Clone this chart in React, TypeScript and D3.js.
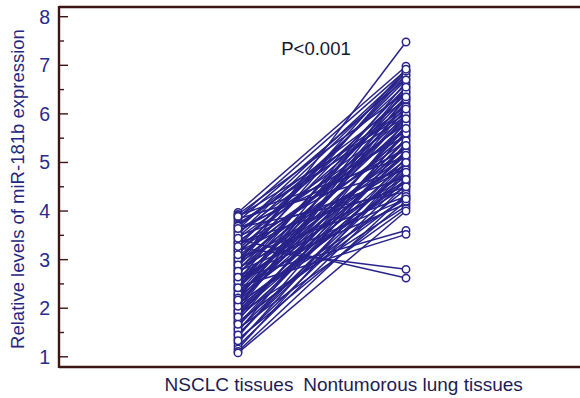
import { useEffect, useRef } from 'react';
import * as d3 from 'd3';

// Paired expression values (same patient = same index)
const groups = ['NSCLC tissues', 'Nontumorous lung tissues'];
const tumor = [
  3.97, 3.93, 3.91, 3.86, 3.84, 3.79, 3.74, 3.71, 3.66, 3.62, 3.58, 3.55, 3.49, 3.46, 3.41, 3.37,
  3.33, 3.29, 3.24, 3.21, 3.16, 3.12, 3.07, 3.03, 2.99, 2.96, 2.91, 2.87, 2.83, 2.78, 2.74, 2.71,
  2.66, 2.62, 2.57, 2.53, 2.49, 2.44, 2.41, 2.36, 2.32, 2.28, 2.23, 2.19, 2.15, 2.11, 2.06, 2.02,
  1.97, 1.93, 1.88, 1.84, 1.79, 1.74, 1.69, 1.63, 1.58, 1.52, 1.47, 1.41, 1.36, 1.29, 1.22, 1.16,
  1.11, 1.08, 3.52, 3.18, 2.94, 2.69, 2.47, 2.26, 2.08, 3.69, 3.02, 2.81, 2.59, 2.39, 3.35, 2.13,
  1.9, 3.89, 3.64, 3.27, 2.89, 2.55, 2.3, 1.95, 1.72, 3.1, 2.76, 2.21, 1.56, 3.44, 2.64,
  1.82, 1.45, 2.04, 1.67, 2.42, 1.33, 2.17,
];
const normal = [
  6.98, 6.45, 5.12, 6.9, 4.85, 6.72, 5.95, 6.3, 4.4, 6.85, 5.55, 6.1, 4.7, 6.6, 2.62, 5.8,
  6.4, 5.3, 2.8, 6.2, 4.95, 6.78, 5.7, 4.3, 6.55, 5.45, 7.48, 6.05, 4.6, 6.35, 5.2, 5.9,
  4.15, 3.6, 6.65, 5.05, 6.15, 3.52, 5.6, 4.5, 6.0, 5.35, 4.8, 6.5, 5.15, 4.25, 5.75, 4.65,
  6.25, 5.0, 4.1, 5.5, 4.9, 5.85, 4.45, 5.25, 4.05, 5.65, 4.75, 5.4, 4.2, 5.1, 4.55, 4.95,
  4.35, 4.0, 6.8, 5.65, 4.9, 6.45, 5.3, 5.95, 4.6, 6.15, 5.85, 5.55, 4.7, 6.3, 4.5, 5.45,
  4.85, 6.0, 5.25, 6.7, 6.88, 5.8, 5.05, 5.2, 4.3, 6.92, 4.25, 6.1, 4.8, 5.9, 5.15,
  5.6, 5.0, 6.35, 5.35, 6.55, 4.65, 5.7,
];
const yTicks = [1, 2, 3, 4, 5, 6, 7, 8];

const W = 580;
const H = 398;
const lineColor = '#28238a';
const axisColor = '#3e1414';
const font = 'Liberation Sans, Arial, sans-serif';

const App = () => {
  const ref = useRef<SVGSVGElement>(null);

  useEffect(() => {
    if (!ref.current) return;
    const svg = d3.select(ref.current);
    svg.selectAll('*').remove();

    const left = 59, top = 7, bottom = 367;
    const x = d3.scalePoint<string>().domain(groups).range([238, 406]);
    const y = d3.scaleLinear().domain([0.79, 8.2]).range([bottom, top]);

    const pairs = tumor.map((t, i) => ({ t, n: normal[i] }));

    // connecting lines
    svg.append('g')
      .selectAll('line')
      .data(pairs)
      .enter()
      .append('line')
      .attr('x1', x(groups[0])!)
      .attr('x2', x(groups[1])!)
      .attr('y1', d => y(d.t))
      .attr('y2', d => y(d.n))
      .attr('stroke', lineColor)
      .attr('stroke-width', 1.5);

    // points
    const pts = pairs.flatMap(d => [
      { g: groups[0], v: d.t },
      { g: groups[1], v: d.n },
    ]);
    svg.append('g')
      .selectAll('circle')
      .data(pts)
      .enter()
      .append('circle')
      .attr('cx', d => x(d.g)!)
      .attr('cy', d => y(d.v))
      .attr('r', 3.7)
      .attr('fill', '#fff')
      .attr('stroke', lineColor)
      .attr('stroke-width', 1.5);

    // frame
    const frame = svg.append('g').attr('stroke', axisColor).attr('stroke-width', 2.4);
    frame.append('line').attr('x1', left).attr('x2', W).attr('y1', top).attr('y2', top);
    frame.append('line').attr('x1', left).attr('x2', W).attr('y1', bottom).attr('y2', bottom);
    frame.append('line').attr('x1', left).attr('x2', left).attr('y1', top - 1).attr('y2', bottom + 1);

    // y ticks (inward), minor at halves
    const minor = d3.range(1.5, 8, 1);
    svg.append('g')
      .selectAll('line.major')
      .data(yTicks)
      .enter()
      .append('line')
      .attr('x1', left)
      .attr('x2', left + 9)
      .attr('y1', d => y(d))
      .attr('y2', d => y(d))
      .attr('stroke', axisColor)
      .attr('stroke-width', 1.4);
    svg.append('g')
      .selectAll('line.minor')
      .data(minor)
      .enter()
      .append('line')
      .attr('x1', left)
      .attr('x2', left + 5)
      .attr('y1', d => y(d))
      .attr('y2', d => y(d))
      .attr('stroke', axisColor)
      .attr('stroke-width', 1.4);

    svg.append('g')
      .selectAll('text')
      .data(yTicks)
      .enter()
      .append('text')
      .attr('x', 50)
      .attr('y', d => y(d))
      .attr('dy', '0.36em')
      .attr('text-anchor', 'end')
      .style('font-family', font)
      .style('font-size', '19.5px')
      .attr('fill', '#2a2a8c')
      .text(d => d);

    // y label
    svg.append('text')
      .attr('transform', `translate(24,${(top + bottom) / 2 + 2}) rotate(-90)`)
      .attr('text-anchor', 'middle')
      .style('font-family', font)
      .style('font-size', '18.5px')
      .attr('fill', '#26267e')
      .text('Relative levels of miR-181b expression');

    // category labels
    svg.append('g')
      .selectAll('text')
      .data(groups)
      .enter()
      .append('text')
      .attr('x', (d, i) => x(d)! + (i === 0 ? -9 : 7))
      .attr('y', 391)
      .attr('text-anchor', 'middle')
      .style('font-family', font)
      .style('font-size', '19px')
      .attr('fill', '#1c1c55')
      .text(d => d);

    svg.append('text')
      .attr('x', 316)
      .attr('y', 55)
      .attr('text-anchor', 'middle')
      .style('font-family', font)
      .style('font-size', '18.5px')
      .attr('fill', '#151530')
      .text('P<0.001');
  }, []);

  return (
    <svg
      ref={ref}
      width={W}
      height={H}
      style={{ position: 'absolute', left: 0, top: 0, background: '#fff' }}
    />
  );
};

export default App;
